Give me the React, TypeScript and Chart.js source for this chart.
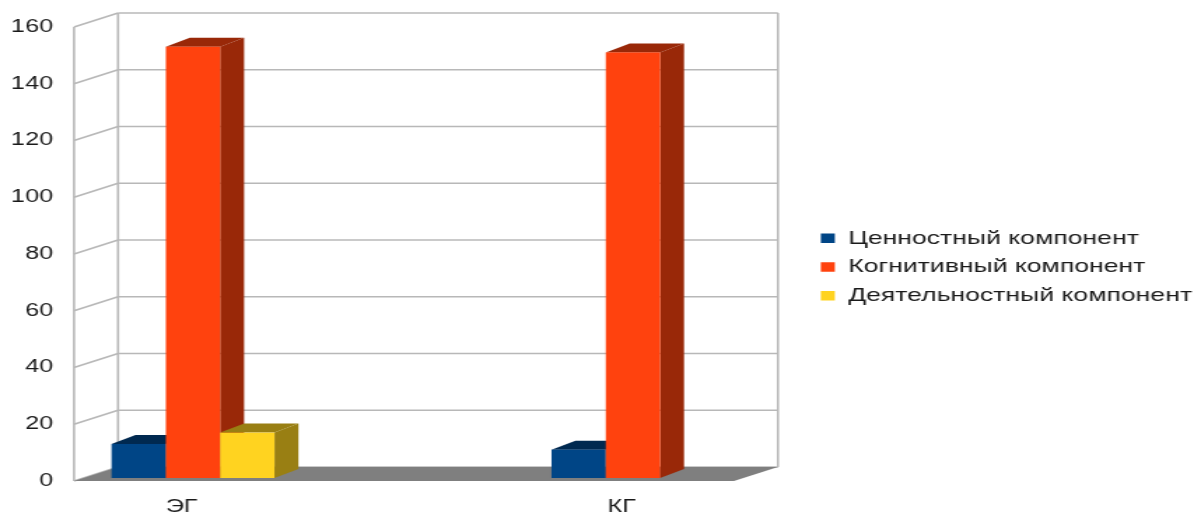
import React, { useEffect, useRef } from 'react';
import { Chart, registerables } from 'chart.js';

Chart.register(...registerables);

// ---------- data ----------
const categories = ['ЭГ', 'КГ'];
const seriesLabels = ['Ценностный компонент', 'Когнитивный компонент', 'Деятельностный компонент'];
const valueSeries: (number | null)[] = [12, 10];
const cognitiveSeries: (number | null)[] = [152, 150];
const activitySeries: (number | null)[] = [16, null];
const yMin = 0;
const yMax = 160;
const yStep = 20;

// ---------- styles ----------
const seriesColors = ['#004586', '#ff420e', '#ffd320'];
const TEXT_COLOR = '#1a1a1a';
const GRID_COLOR = '#b8b8b8';
const FLOOR_COLOR = '#7f7f7f';
const FONT_FAMILY = "'Liberation Sans', Arial, Helvetica, sans-serif";

// ---------- layout (internal canvas px; canvas is shown stretched horizontally) ----------
const VIEW_W = 1194;
const VIEW_H = 519;
const STRETCH = 1.4;
const CANVAS_W = Math.round(VIEW_W / STRETCH);
const TICK_SIZE = 18;
const LEGEND_SIZE = 19;
const LEGEND_PAD = 9.7;
const LEGEND_BOX_W = 10;
const LEGEND_BOX_H = 9.5;
const AREA_LEFT = 52.9;
const AREA_RIGHT = 576.7;
const PAD_TOP = 15;
const TOP_SPACER_H = 12;
const X_AXIS_H = 38;
const X_MIN = -0.25;
const FLOOR_MAX = 1.25;
const CAT_PX = 314.3;
const X_MAX = X_MIN + (AREA_RIGHT - AREA_LEFT) / CAT_PX;
const WALL_DEPTH: [number, number] = [31.4, -14];
const BAR_FRONT: [number, number] = [6.4, -3];
const BAR_DEPTH: [number, number] = [17.1, -9];
const BAR_THICKNESS = 38.8;

function darken(hex: string, f: number): string {
  const n = parseInt(hex.slice(1), 16);
  const r = Math.round(((n >> 16) & 255) * f);
  const g = Math.round(((n >> 8) & 255) * f);
  const b = Math.round((n & 255) * f);
  return `rgb(${r},${g},${b})`;
}

function poly(ctx: CanvasRenderingContext2D, pts: number[][]) {
  ctx.beginPath();
  ctx.moveTo(pts[0][0], pts[0][1]);
  for (let i = 1; i < pts.length; i++) ctx.lineTo(pts[i][0], pts[i][1]);
  ctx.closePath();
  ctx.fill();
}

function line(ctx: CanvasRenderingContext2D, x1: number, y1: number, x2: number, y2: number) {
  ctx.beginPath();
  ctx.moveTo(x1, y1);
  ctx.lineTo(x2, y2);
  ctx.stroke();
}

const depthPlugin = {
  id: 'depth3d',
  beforeDatasetsDraw(chart: any) {
    const ctx: CanvasRenderingContext2D = chart.ctx;
    const xs = chart.scales.x;
    const ys = chart.scales.y;
    const fl = xs.getPixelForValue(X_MIN);
    const fr = xs.getPixelForValue(FLOOR_MAX);
    const yTop = ys.getPixelForValue(yMax);
    const yBot = ys.getPixelForValue(yMin);
    const [dx, dy] = WALL_DEPTH;
    ctx.save();
    ctx.strokeStyle = GRID_COLOR;
    ctx.lineWidth = 1.6;
    for (let v = yMin; v <= yMax; v += yStep) {
      const y = ys.getPixelForValue(v);
      line(ctx, fl + dx, y + dy, fr + dx, y + dy);
      line(ctx, fl, y, fl + dx, y + dy);
    }
    line(ctx, fl + dx, yTop + dy, fl + dx, yBot + dy);
    line(ctx, fr + dx, yTop + dy, fr + dx, yBot + dy);
    line(ctx, fl, yTop, fl, yBot);
    ctx.fillStyle = FLOOR_COLOR;
    poly(ctx, [[fl, yBot], [fr, yBot], [fr + dx, yBot + dy], [fl + dx, yBot + dy]]);
    ctx.restore();
  },
  beforeDatasetDraw() {
    return false;
  },
  afterDatasetsDraw(chart: any) {
    const ctx: CanvasRenderingContext2D = chart.ctx;
    const [ddx, ddy] = BAR_DEPTH;
    ctx.save();
    chart.data.datasets.forEach((ds: any, di: number) => {
      const meta = chart.getDatasetMeta(di);
      if (meta.hidden) return;
      const front = seriesColors[di];
      const shade = darken(front, 0.6);
      meta.data.forEach((el: any, i: number) => {
        const raw = ds.data[i] && ds.data[i].y;
        if (raw === null || raw === undefined) return;
        const { x, y, base, width } = el.getProps(['x', 'y', 'base', 'width'], true);
        if (!isFinite(y)) return;
        const l = x - width / 2 + BAR_FRONT[0];
        const r = x + width / 2 + BAR_FRONT[0];
        const t = y + BAR_FRONT[1];
        const b = base + BAR_FRONT[1];
        ctx.fillStyle = shade;
        poly(ctx, [[r, t], [r + ddx, t + ddy], [r + ddx, b + ddy], [r, b]]);
        poly(ctx, [[l, t], [l + ddx, t + ddy], [r + ddx, t + ddy], [r, t]]);
        ctx.fillStyle = front;
        ctx.fillRect(l, t, r - l, b - t);
      });
    });
    ctx.restore();
  },
};

export default function App() {
  const canvasRef = useRef<HTMLCanvasElement>(null);

  useEffect(() => {
    const canvas = canvasRef.current;
    if (!canvas) return;

    const mctx = document.createElement('canvas').getContext('2d')!;
    mctx.font = `${LEGEND_SIZE}px ${FONT_FAMILY}`;
    const maxText = Math.max(...seriesLabels.map((t) => mctx.measureText(t).width));
    const legendWidth = LEGEND_PAD + LEGEND_BOX_W + LEGEND_SIZE / 2 + maxText + 10;
    const rightPad = CANVAS_W - AREA_RIGHT - legendWidth;

    const seriesValues = [valueSeries, cognitiveSeries, activitySeries];
    const datasets = seriesValues.map((vals, i) => ({
      label: seriesLabels[i],
      data: vals.map((v, j) => ({ x: j, y: v })),
      backgroundColor: seriesColors[i],
      borderWidth: 0,
      barThickness: BAR_THICKNESS,
    }));

    const chart = new Chart(canvas, {
      type: 'bar',
      data: { datasets } as any,
      plugins: [depthPlugin as any],
      options: {
        responsive: false,
        animation: false,
        devicePixelRatio: 1,
        events: [],
        layout: { padding: { top: PAD_TOP, left: 0, bottom: 0, right: rightPad } },
        scales: {
          x: {
            type: 'linear',
            min: X_MIN,
            max: X_MAX,
            offset: false,
            grid: { display: false, drawTicks: false },
            border: { display: false },
            afterBuildTicks: (s: any) => {
              s.ticks = categories.map((_, i) => ({ value: i }));
            },
            afterFit: (s: any) => {
              s.height = X_AXIS_H;
            },
            ticks: {
              padding: 15.5,
              labelOffset: -1.7,
              autoSkip: false,
              maxRotation: 0,
              color: TEXT_COLOR,
              font: { family: FONT_FAMILY, size: TICK_SIZE },
              callback: (v: any) => categories[v as number] ?? '',
            },
          },
          y: {
            min: yMin,
            max: yMax,
            grid: { display: false, drawTicks: false },
            border: { display: false },
            afterFit: (s: any) => {
              s.width = AREA_LEFT;
            },
            ticks: {
              stepSize: yStep,
              padding: 15,
              color: TEXT_COLOR,
              font: { family: FONT_FAMILY, size: TICK_SIZE },
            },
          },
        } as any,
        plugins: {
          title: {
            display: true,
            text: '',
            fullSize: false,
            padding: 0,
            font: { size: 10, lineHeight: TOP_SPACER_H / 10 },
          },
          legend: {
            position: 'right',
            align: 'center',
            maxWidth: 600,
            labels: {
              boxWidth: LEGEND_BOX_W,
              boxHeight: LEGEND_BOX_H,
              padding: LEGEND_PAD,
              color: TEXT_COLOR,
              font: { family: FONT_FAMILY, size: LEGEND_SIZE },
            },
          },
          tooltip: { enabled: false },
        },
      },
    });
    return () => chart.destroy();
  }, []);

  return (
    <div
      style={{
        position: 'fixed',
        left: 0,
        top: 0,
        width: VIEW_W,
        height: VIEW_H,
        background: '#ffffff',
        overflow: 'hidden',
      }}
    >
      <canvas
        ref={canvasRef}
        width={CANVAS_W}
        height={VIEW_H}
        style={{ width: VIEW_W + 'px', height: VIEW_H + 'px', display: 'block' }}
      />
    </div>
  );
}
